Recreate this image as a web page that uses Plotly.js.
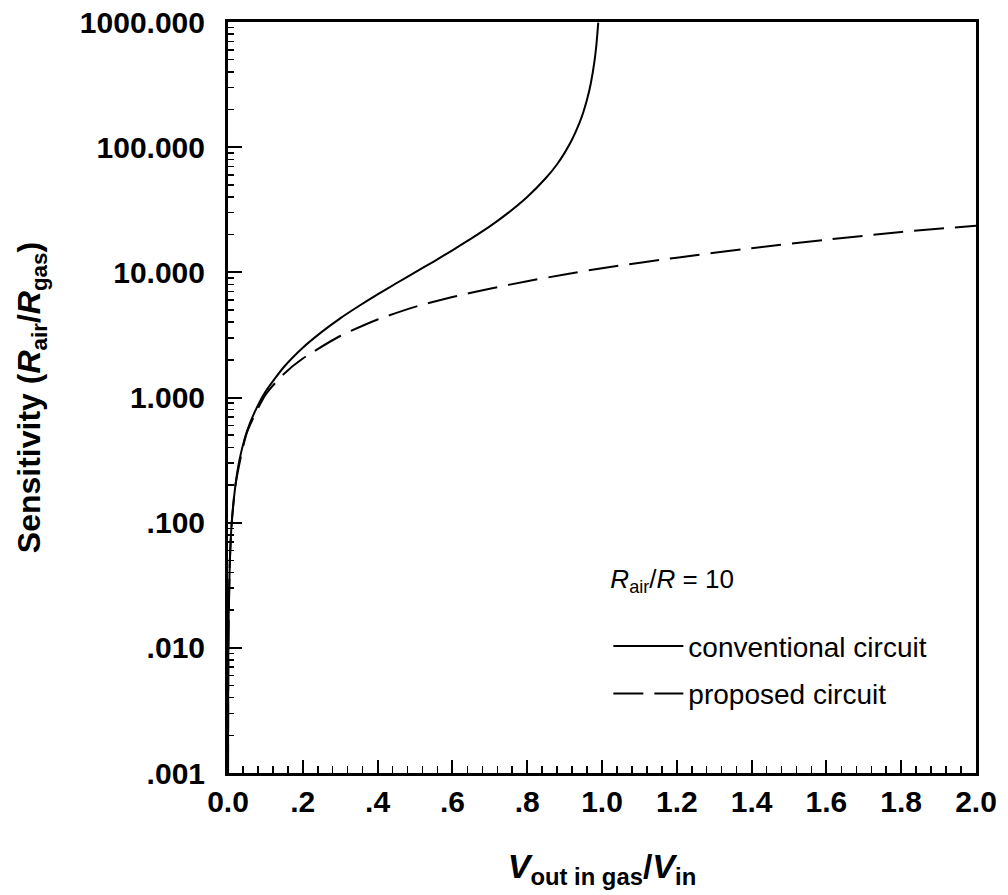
<!DOCTYPE html>
<html>
<head>
<meta charset="utf-8">
<script src="https://cdn.plot.ly/plotly-3.0.1.min.js"></script>
<style>html,body{margin:0;padding:0;background:#fff;}#chart{width:1008px;height:895px;}</style>
</head>
<body>
<div id="chart"></div>
<script>
// Conventional circuit (solid)
var convX = [0.0001, 0.0005, 0.001, 0.002, 0.005, 0.01, 0.02, 0.03, 0.05, 0.07, 0.1, 0.15, 0.2, 0.25, 0.3, 0.35, 0.4, 0.45, 0.5, 0.55, 0.6, 0.65, 0.7, 0.75, 0.8, 0.85, 0.88, 0.9, 0.92, 0.94, 0.95, 0.96, 0.97, 0.98, 0.985, 0.99];
var convY = [0.001, 0.005, 0.01, 0.02, 0.05, 0.1, 0.2, 0.31, 0.53, 0.75, 1.11, 1.76, 2.5, 3.33, 4.29, 5.38, 6.67, 8.18, 10, 12.2, 15, 18.6, 23.3, 30, 40, 56.7, 73, 90, 115, 157, 190, 240, 323, 490, 657, 990];

// Proposed circuit (dashed)
var propX = [0.0001, 0.001, 0.005, 0.01, 0.02, 0.05, 0.1, 0.15, 0.2, 0.3, 0.4, 0.5, 0.6, 0.7, 0.8, 0.9, 1.0, 1.2, 1.4, 1.6, 1.8, 2.0];
var propY = [0.001, 0.01, 0.05, 0.1, 0.2, 0.52, 1.05, 1.55, 2.05, 3.1, 4.2, 5.3, 6.35, 7.4, 8.5, 9.6, 10.8, 13.1, 15.6, 18.2, 21, 23.6];

var seriesNames = ['conventional circuit', 'proposed circuit'];

// Axis ticks
var xTickVals = [0, 0.2, 0.4, 0.6, 0.8, 1.0, 1.2, 1.4, 1.6, 1.8, 2.0];
var xTickText = ['0.0', '.2', '.4', '.6', '.8', '1.0', '1.2', '1.4', '1.6', '1.8', '2.0'];
var yTickVals = [0.001, 0.01, 0.1, 1, 10, 100, 1000];
var yTickText = ['.001', '.010', '.100', '1.000', '10.000', '100.000', '1000.000'];

var yMinor = [];
for (var e = -3; e < 3; e++) {
  for (var m = 2; m <= 9; m++) yMinor.push(m * Math.pow(10, e));
}

var FONT = 'Liberation Sans, Arial, Helvetica, sans-serif';

var traces = [
  {x: convX, y: convY, type: 'scatter', mode: 'lines', name: seriesNames[0],
   legendgroup: 'a', line: {color: '#000', width: 2, shape: 'spline', smoothing: 0.6}},
  {x: propX, y: propY, type: 'scatter', mode: 'lines', name: seriesNames[1],
   legendgroup: 'b', line: {color: '#000', width: 2, dash: '30px,11px', shape: 'spline', smoothing: 0.6}}
];

var layout = {
  width: 1008, height: 895,
  paper_bgcolor: '#fff', plot_bgcolor: '#fff',
  margin: {l: 228, r: 32, t: 22, b: 122},
  font: {family: FONT, color: '#000'},
  showlegend: true,
  legend: {
    x: 0.5085, y: 0.292, xanchor: 'left', yanchor: 'top',
    bgcolor: 'rgba(0,0,0,0)', borderwidth: 0,
    font: {family: FONT, size: 28, color: '#000'},
    title: {text: '<i>R</i><sub>air</sub>/<i>R</i> = 10<br>&nbsp;', font: {family: FONT, size: 26, color: '#000'}},
    tracegroupgap: 8, itemwidth: 70
  },
  xaxis: {
    range: [0, 2.0], showgrid: false, zeroline: false,
    showline: true, linecolor: '#000', linewidth: 3, mirror: true,
    ticks: 'inside', ticklen: 13, tickwidth: 2, tickcolor: '#000',
    tickmode: 'array', tickvals: xTickVals, ticktext: xTickText,
    tickfont: {family: FONT, size: 30, color: '#000', weight: 'bold'},
    minor: {ticks: 'inside', ticklen: 7, tickwidth: 1.5, tickcolor: '#000', dtick: 0.04, tick0: 0, showgrid: false},
    title: {text: '<b><i>V</i><sub>out in gas</sub>/<i>V</i><sub>in</sub></b>', font: {family: FONT, size: 34, color: '#000'}, standoff: 38}
  },
  yaxis: {
    type: 'log', range: [-3, 3], showgrid: false, zeroline: false,
    showline: true, linecolor: '#000', linewidth: 3, mirror: true,
    ticks: 'inside', ticklen: 14, tickwidth: 2, tickcolor: '#000',
    tickmode: 'array', tickvals: yTickVals, ticktext: yTickText,
    tickfont: {family: FONT, size: 30, color: '#000', weight: 'bold'},
    ticklabelstandoff: 14,
    minor: {ticks: 'inside', ticklen: 6, tickwidth: 1.5, tickcolor: '#000', tickmode: 'array', tickvals: yMinor, showgrid: false},
    title: {text: '<b>Sensitivity (<i>R</i><sub>air</sub>/<i>R</i><sub>gas</sub>)</b>', font: {family: FONT, size: 32, color: '#000'}, standoff: 30}
  }
};

Plotly.newPlot('chart', traces, layout, {displayModeBar: false, staticPlot: true});
</script>
</body>
</html>
